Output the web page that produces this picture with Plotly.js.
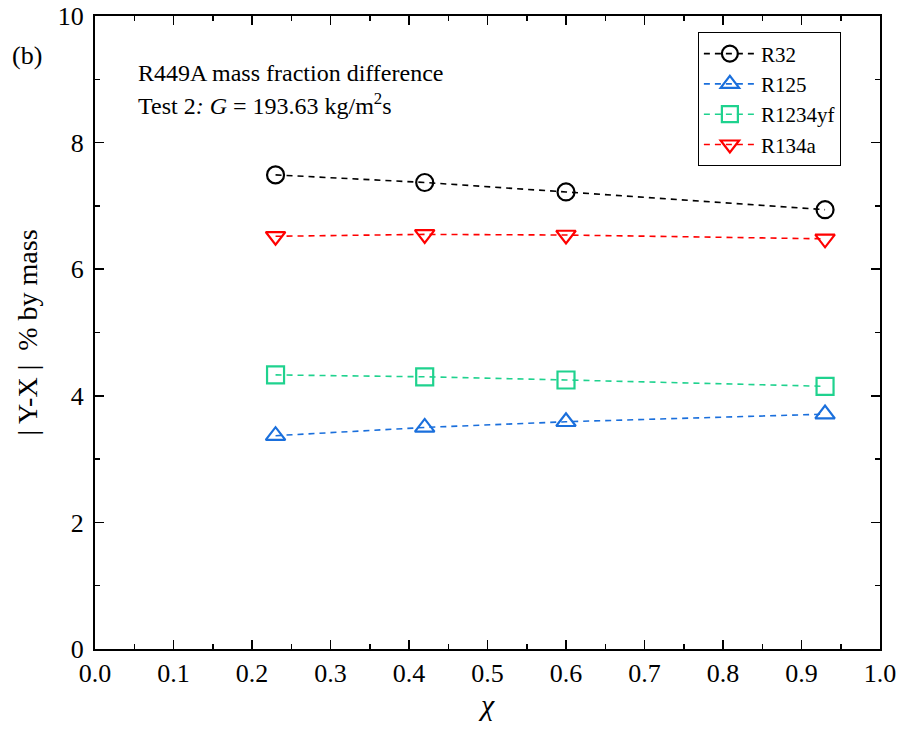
<!DOCTYPE html>
<html>
<head>
<meta charset="utf-8">
<script src="https://cdn.plot.ly/plotly-3.0.1.min.js"></script>
<style>
  html, body { margin: 0; padding: 0; background: #fff; }
  #chart { width: 903px; height: 729px; }
</style>
</head>
<body>
<div id="chart"></div>
<script>
// Vapour quality points of Test 2
const quality = [0.23, 0.42, 0.60, 0.93];

// |Y-X| mass fraction difference per component, % by mass
const r32 = [7.49, 7.37, 7.22, 6.94];
const r125 = [3.37, 3.50, 3.59, 3.71];
const r1234yf = [4.33, 4.30, 4.25, 4.15];
const r134a = [6.52, 6.55, 6.54, 6.48];

const seriesNames = ["R32", "R125", "R1234yf", "R134a"];
const xTickVals = [0, 0.1, 0.2, 0.3, 0.4, 0.5, 0.6, 0.7, 0.8, 0.9, 1.0];
const xTickText = ["0.0", "0.1", "0.2", "0.3", "0.4", "0.5", "0.6", "0.7", "0.8", "0.9", "1.0"];
const yTickVals = [0, 2, 4, 6, 8, 10];

const serif = "'Liberation Serif', 'Times New Roman', serif";

function series(name, y, color, symbol) {
  return {
    x: quality, y: y, name: name, type: "scatter", mode: "lines+markers",
    line: { color: color, width: 1.6, dash: "6px,5px" },
    marker: { symbol: symbol, size: 17, color: color, line: { color: color, width: 2.2 } }
  };
}

const data = [
  series(seriesNames[0], r32, "#000000", "circle-open"),
  series(seriesNames[1], r125, "#1a6fdc", "triangle-up-open"),
  series(seriesNames[2], r1234yf, "#1fd28e", "square-open"),
  series(seriesNames[3], r134a, "#ff0000", "triangle-down-open")
];

const axisCommon = {
  showline: true, linecolor: "#000", linewidth: 2, mirror: "ticks",
  ticks: "inside", ticklen: 9, tickwidth: 1.5, tickcolor: "#000",
  showgrid: false, zeroline: false,
  tickfont: { family: serif, size: 26, color: "#000" }
};

const layout = {
  width: 903, height: 729,
  margin: { l: 95, r: 23, t: 16, b: 80 },
  paper_bgcolor: "#fff", plot_bgcolor: "#fff",
  showlegend: true,
  font: { family: serif, color: "#000" },
  xaxis: Object.assign({}, axisCommon, {
    range: [0, 1], tickvals: xTickVals, ticktext: xTickText,
    minor: { ticks: "inside", ticklen: 5, tickwidth: 1.5, tickcolor: "#000", dtick: 0.05, tick0: 0 },
    title: { text: "<i>χ</i>", font: { family: serif, size: 30, color: "#000" }, standoff: 0 }
  }),
  yaxis: Object.assign({}, axisCommon, {
    range: [0, 10], tickvals: yTickVals, ticklabelstandoff: 4,
    minor: { ticks: "inside", ticklen: 5, tickwidth: 1.5, tickcolor: "#000", dtick: 1, tick0: 0 },
    title: { text: "| Y-X |  % by mass", font: { family: serif, size: 28, color: "#000" }, standoff: 12 }
  }),
  legend: {
    x: 0.768, y: 0.974, xanchor: "left", yanchor: "top",
    bgcolor: "#fff", bordercolor: "#000", borderwidth: 1,
    font: { family: serif, size: 21, color: "#000" },
    itemwidth: 52, tracegroupgap: 0
  },
  annotations: [
    { xref: "paper", yref: "paper", x: -0.108, y: 0.937, xanchor: "left", yanchor: "middle",
      text: "(b)", showarrow: false, font: { family: serif, size: 26, color: "#000" } },
    { xref: "paper", yref: "paper", x: 0.052, y: 0.910, xanchor: "left", yanchor: "middle",
      text: "R449A mass fraction difference", showarrow: false,
      font: { family: serif, size: 24, color: "#000" } },
    { xref: "paper", yref: "paper", x: 0.052, y: 0.861, xanchor: "left", yanchor: "middle",
      text: "Test 2<i>: G</i> = 193.63 kg/m<sup>2</sup>s", showarrow: false,
      font: { family: serif, size: 24, color: "#000" } }
  ]
};

Plotly.newPlot("chart", data, layout, { displayModeBar: false, staticPlot: true });
</script>
</body>
</html>
